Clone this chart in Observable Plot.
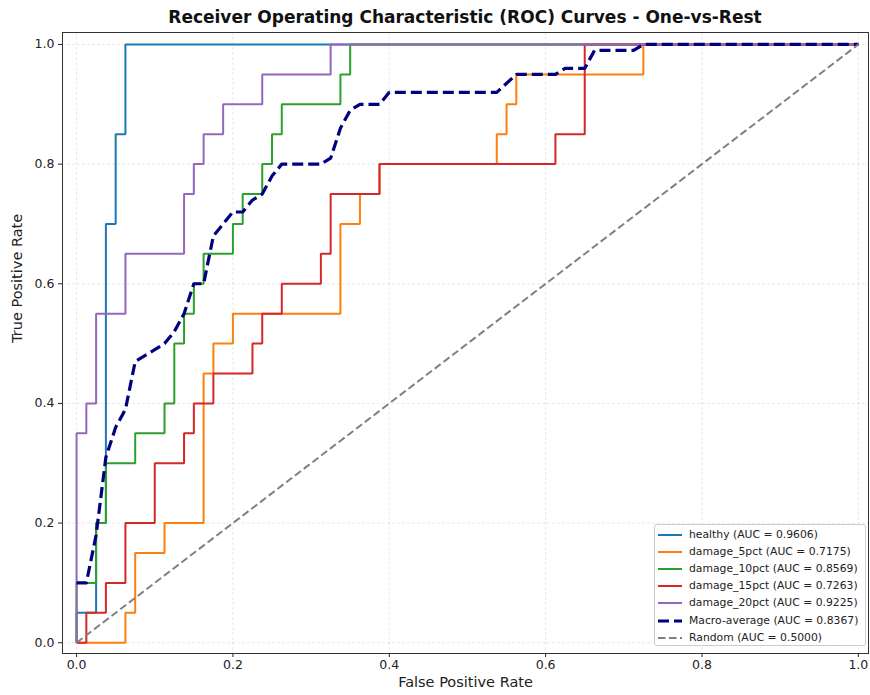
<!DOCTYPE html>
<html>
<head>
<meta charset="utf-8">
<script src="https://cdn.jsdelivr.net/npm/d3@7"></script>
<script src="https://cdn.jsdelivr.net/npm/@observablehq/plot@0.6"></script>
<style>
  body { margin: 0; background: #fff; font-family: "DejaVu Sans", sans-serif; }
  #wrap { position: relative; width: 870px; height: 695px; overflow: hidden; }
  #title { position: absolute; left: 62px; width: 806px; top: 7px; text-align: center;
           font: bold 17px "DejaVu Sans", sans-serif; line-height: 20px; color: #111; }
  #chart { position: absolute; left: 0; top: 30px; }
  #legend { position: absolute; left: 654px; top: 524px; width: 212px; height: 122px;
            background: rgba(255,255,255,0.85); border: 1px solid #ccc; border-radius: 3px; box-sizing: border-box; }
  .row { position: absolute; left: 0; height: 16px; width: 210px; }
  .row svg { position: absolute; left: 2px; top: 0; }
  .row span { position: absolute; left: 34px; top: 0; line-height: 16px; font-size: 10.8px; color: #222; white-space: nowrap; }
</style>
</head>
<body>
<div id="wrap">
  <div id="title"></div>
  <div id="chart"></div>
  <div id="legend"></div>
</div>
<script>
// ---- data ----
const titleText = "Receiver Operating Characteristic (ROC) Curves - One-vs-Rest";
const xLabel = "False Positive Rate";
const yLabel = "True Positive Rate";
const tickValues = [0, 0.2, 0.4, 0.6, 0.8, 1.0];

const classNames = ["healthy", "damage_5pct", "damage_10pct", "damage_15pct", "damage_20pct"];
const classAuc = [0.9606, 0.7175, 0.8569, 0.7263, 0.9225];
const classColors = ["#1f77b4", "#ff7f0e", "#2ca02c", "#d62728", "#9467bd"];

const healthyFpr = [0, 0, 0.025, 0.025, 0.0375, 0.0375, 0.05, 0.05, 0.0625, 0.0625, 1];
const healthyTpr = [0, 0.05, 0.05, 0.2, 0.2, 0.7, 0.7, 0.85, 0.85, 1, 1];

const damage5Fpr = [0, 0.0625, 0.0625, 0.075, 0.075, 0.1125, 0.1125, 0.1625, 0.1625, 0.175, 0.175, 0.2, 0.2, 0.3375, 0.3375, 0.3625, 0.3625, 0.3875, 0.3875, 0.5375, 0.5375, 0.55, 0.55, 0.5625, 0.5625, 0.725, 0.725, 1];
const damage5Tpr = [0, 0, 0.05, 0.05, 0.15, 0.15, 0.2, 0.2, 0.45, 0.45, 0.5, 0.5, 0.55, 0.55, 0.7, 0.7, 0.75, 0.75, 0.8, 0.8, 0.85, 0.85, 0.9, 0.9, 0.95, 0.95, 1, 1];

const damage10Fpr = [0, 0, 0.025, 0.025, 0.0375, 0.0375, 0.075, 0.075, 0.1125, 0.1125, 0.125, 0.125, 0.1375, 0.1375, 0.15, 0.15, 0.1625, 0.1625, 0.2, 0.2, 0.2125, 0.2125, 0.2375, 0.2375, 0.25, 0.25, 0.2625, 0.2625, 0.3375, 0.3375, 0.35, 0.35, 1];
const damage10Tpr = [0, 0.1, 0.1, 0.2, 0.2, 0.3, 0.3, 0.35, 0.35, 0.4, 0.4, 0.5, 0.5, 0.55, 0.55, 0.6, 0.6, 0.65, 0.65, 0.7, 0.7, 0.75, 0.75, 0.8, 0.8, 0.85, 0.85, 0.9, 0.9, 0.95, 0.95, 1, 1];

const damage15Fpr = [0, 0.0125, 0.0125, 0.0375, 0.0375, 0.0625, 0.0625, 0.1, 0.1, 0.1375, 0.1375, 0.15, 0.15, 0.175, 0.175, 0.225, 0.225, 0.2375, 0.2375, 0.2625, 0.2625, 0.3125, 0.3125, 0.325, 0.325, 0.3875, 0.3875, 0.6125, 0.6125, 0.65, 0.65, 1];
const damage15Tpr = [0, 0, 0.05, 0.05, 0.1, 0.1, 0.2, 0.2, 0.3, 0.3, 0.35, 0.35, 0.4, 0.4, 0.45, 0.45, 0.5, 0.5, 0.55, 0.55, 0.6, 0.6, 0.65, 0.65, 0.75, 0.75, 0.8, 0.8, 0.85, 0.85, 1, 1];

const damage20Fpr = [0, 0, 0.0125, 0.0125, 0.025, 0.025, 0.0625, 0.0625, 0.1375, 0.1375, 0.15, 0.15, 0.1625, 0.1625, 0.1875, 0.1875, 0.2375, 0.2375, 0.325, 0.325, 1];
const damage20Tpr = [0, 0.35, 0.35, 0.4, 0.4, 0.55, 0.55, 0.65, 0.65, 0.75, 0.75, 0.8, 0.8, 0.85, 0.85, 0.9, 0.9, 0.95, 0.95, 1, 1];

const macroFpr = [0, 0.0125, 0.025, 0.0375, 0.05, 0.0625, 0.075, 0.1, 0.1125, 0.125, 0.1375, 0.15, 0.1625, 0.175, 0.1875, 0.2, 0.2125, 0.225, 0.2375, 0.25, 0.2625, 0.3125, 0.325, 0.3375, 0.35, 0.3625, 0.3875, 0.4, 0.5375, 0.5625, 0.6125, 0.625, 0.65, 0.6625, 0.7125, 0.725, 1];
const macroTpr = [0.10, 0.10, 0.18, 0.31, 0.36, 0.39, 0.47, 0.49, 0.50, 0.52, 0.55, 0.60, 0.60, 0.68, 0.70, 0.72, 0.72, 0.74, 0.75, 0.78, 0.80, 0.80, 0.81, 0.86, 0.89, 0.90, 0.90, 0.92, 0.92, 0.95, 0.95, 0.96, 0.96, 0.99, 0.99, 1.0, 1.0];
const macroName = "Macro-average";
const macroAuc = 0.8367;
const macroColor = "#000080";

const randomFpr = [0, 1];
const randomTpr = [0, 1];
const randomName = "Random";
const randomAuc = 0.5000;
const randomColor = "#808080";

// ---- build ----
const toPts = (xs, ys) => xs.map((x, i) => ({fpr: x, tpr: ys[i]}));
const classSeries = [
  toPts(healthyFpr, healthyTpr),
  toPts(damage5Fpr, damage5Tpr),
  toPts(damage10Fpr, damage10Tpr),
  toPts(damage15Fpr, damage15Tpr),
  toPts(damage20Fpr, damage20Tpr)
];

document.getElementById("title").textContent = titleText;

const gridStyle = {stroke: "#b0b0b0", strokeOpacity: 0.35, strokeDasharray: "3,2", strokeWidth: 0.8};

const chart = Plot.plot({
  width: 870,
  height: 665,
  marginLeft: 62,
  marginRight: 2,
  marginTop: 2,
  marginBottom: 42,
  style: {fontFamily: "DejaVu Sans, sans-serif", color: "#222", background: "transparent"},
  x: {domain: [-0.018, 1.013]},
  y: {domain: [-0.018, 1.02]},
  marks: [
    Plot.ruleX(tickValues, gridStyle),
    Plot.ruleY(tickValues, gridStyle),
    ...classSeries.map((pts, i) =>
      Plot.line(pts, {x: "fpr", y: "tpr", stroke: classColors[i], strokeWidth: 2, strokeLinejoin: "miter", strokeLinecap: "butt"})
    ),
    Plot.line(toPts(macroFpr, macroTpr), {x: "fpr", y: "tpr", stroke: macroColor, strokeWidth: 3.2, strokeDasharray: "11,5", strokeLinecap: "butt"}),
    Plot.line(toPts(randomFpr, randomTpr), {x: "fpr", y: "tpr", stroke: randomColor, strokeWidth: 2, strokeDasharray: "7.5,3.5", strokeLinecap: "butt"}),
    Plot.axisX({ticks: tickValues, tickFormat: d => d.toFixed(1), tickSize: 4, tickPadding: 3, fontSize: 12.5, label: null}),
    Plot.axisY({ticks: tickValues, tickFormat: d => d.toFixed(1), tickSize: 4, tickPadding: 4, fontSize: 12.5, label: null}),
    Plot.text([xLabel], {frameAnchor: "bottom", dy: 33, fontSize: 14.5, fill: "#222"}),
    Plot.text([yLabel], {frameAnchor: "left", dx: -45, rotate: -90, fontSize: 14.5, fill: "#222"}),
    Plot.frame({stroke: "#333", strokeWidth: 1})
  ]
});
document.getElementById("chart").appendChild(chart);

// ---- legend ----
const legendItems = classNames.map((n, i) => ({label: `${n} (AUC = ${classAuc[i].toFixed(4)})`, color: classColors[i], width: 2, dash: null}));
legendItems.push({label: `${macroName} (AUC = ${macroAuc.toFixed(4)})`, color: macroColor, width: 3.2, dash: "11,5"});
legendItems.push({label: `${randomName} (AUC = ${randomAuc.toFixed(4)})`, color: randomColor, width: 2, dash: "7.5,3.5"});

const legend = document.getElementById("legend");
legendItems.forEach((it, i) => {
  const row = document.createElement("div");
  row.className = "row";
  row.style.top = (1.5 + i * 17.2) + "px";
  const ns = "http://www.w3.org/2000/svg";
  const s = document.createElementNS(ns, "svg");
  s.setAttribute("width", 26); s.setAttribute("height", 16);
  const l = document.createElementNS(ns, "line");
  l.setAttribute("x1", 1); l.setAttribute("x2", 25); l.setAttribute("y1", 8); l.setAttribute("y2", 8);
  l.setAttribute("stroke", it.color); l.setAttribute("stroke-width", it.width);
  if (it.dash) l.setAttribute("stroke-dasharray", it.dash);
  s.appendChild(l);
  const t = document.createElement("span");
  t.textContent = it.label;
  row.appendChild(s); row.appendChild(t);
  legend.appendChild(row);
});
</script>
</body>
</html>
